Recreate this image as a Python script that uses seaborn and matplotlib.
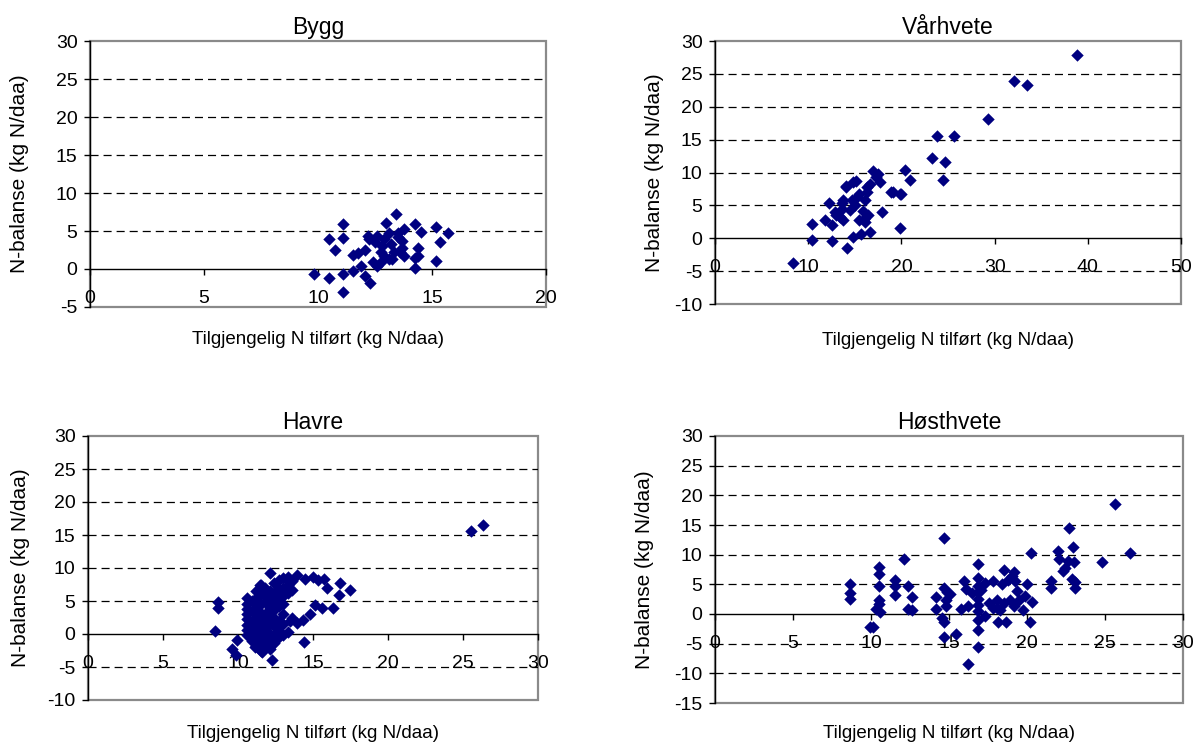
import numpy as np
import pandas as pd
import matplotlib
matplotlib.use("Agg")
import matplotlib.pyplot as plt
import seaborn as sns
from matplotlib.patches import Rectangle

# ---- data: available N applied (x) vs. N balance (y), kg N/daa ----
bygg_x = [9.83, 10.5, 11.08, 11.08, 10.5, 11.1, 11.1, 10.75, 11.55, 11.75,
          12.05, 11.55, 11.9, 12.05, 12.3, 12.2, 12.5, 12.6, 12.4, 12.6,
          12.75, 12.8, 13.0, 13.1, 13.1, 12.9, 13.2, 13.4, 13.5, 13.6,
          13.7, 13.75, 13.75, 13.7, 13.35, 14.25, 14.5, 14.4, 14.25, 14.4,
          14.25, 15.17, 15.33, 15.7, 15.17, 13.25, 12.25, 12.75, 12.9, 13.5]
bygg_y = [-0.7, -1.2, -3.0, -0.65, 4.0, 5.9, 4.1, 2.5, 1.9, 2.1,
          2.5, -0.2, 0.4, -0.9, -1.8, 4.3, 3.5, 4.3, 0.9, 0.4,
          2.2, 3.0, 6.0, 4.8, 1.3, 3.9, 3.3, 7.3, 4.8, 2.2,
          3.7, 5.2, 1.7, 2.8, 2.2, 5.9, 4.9, 2.7, 0.1, 1.65,
          1.4, 5.5, 3.6, 4.7, 1.0, 1.3, 3.9, 0.9, 1.7, 4.2]

varhvete_x = [8.4, 10.4, 10.4, 12.6, 14.2, 12.25, 11.8, 12.5, 13.6, 13.4,
              12.9, 14.1, 15.1, 14.65, 15.9, 16.4, 14.8, 15.7, 16.6, 17.0,
              17.3, 17.9, 19.8, 18.9, 20.4, 20.9, 20.0, 16.3, 15.5, 16.1,
              17.7, 16.6, 16.3, 14.8, 14.1, 15.2, 13.75, 13.6, 15.5, 16.1,
              13.75, 19.9, 19.1, 23.3, 24.7, 24.5, 23.8, 25.6, 29.3, 32.05,
              33.5, 38.8, 17.5, 16.0, 13.0, 15.0, 14.5]
varhvete_y = [-3.7, 2.2, -0.2, -0.4, -1.5, 5.3, 2.7, 2.0, 5.3, 3.2,
              4.0, 8.0, 8.7, 5.8, 4.2, 3.5, 0.2, 0.7, 1.0, 10.3,
              9.3, 4.0, 1.6, 7.0, 10.4, 8.9, 6.8, 7.8, 6.8, 5.8,
              8.5, 8.3, 7.0, 8.5, 7.8, 6.3, 5.8, 4.5, 2.7, 2.5,
              2.7, 6.7, 7.0, 12.2, 11.6, 8.8, 15.6, 15.5, 18.2, 23.9,
              23.3, 27.8, 9.8, 3.0, 3.5, 5.0, 4.3]

havre_x = [8.69, 8.69, 8.47, 9.96, 9.58, 9.87, 12.25, 14.4, 25.5, 26.3,
           12.13, 11.47, 13.25, 13.9, 14.47, 15.35, 15.7, 15.9, 16.8, 16.7,
           17.47, 16.35, 15.6, 15.13, 14.8, 14.35, 13.9, 13.47, 13.0, 12.7,
           13.35, 11.0, 11.13, 11.58, 10.8,
           10.6, 10.6, 10.6, 10.6, 10.6, 10.6, 10.6, 10.6,
           10.9, 10.9, 10.9, 10.9, 10.9,
           11.2, 11.2, 11.2, 11.2, 11.2, 11.2, 11.2,
           11.5, 11.5, 11.5, 11.5, 11.5, 11.5, 11.5, 11.5,
           11.8, 11.8, 11.8, 11.8, 11.8, 11.8, 11.8, 11.8,
           12.1, 12.1, 12.1, 12.1, 12.1, 12.1, 12.1, 12.1,
           12.4, 12.4, 12.4, 12.4, 12.4, 12.4, 12.4, 12.4,
           12.7, 12.7, 12.7, 12.7, 12.7, 12.7,
           13.0, 13.0, 13.0, 13.0, 13.0, 13.0,
           13.3, 13.3, 13.3, 13.6, 13.6, 13.6, 15.0]
havre_y = [4.9, 3.9, 0.5, -0.9, -2.3, -3.2, -3.9, -1.2, 15.6, 16.5,
           9.3, 7.4, 8.4, 8.9, 8.4, 8.2, 8.4, 6.9, 7.7, 5.9,
           6.6, 3.9, 3.9, 4.4, 3.1, 2.1, 1.6, 1.9, -0.2, -0.4,
           0.35, -0.9, -1.9, -2.7, -0.4,
           5.4, 4.6, 3.8, 3.0, 2.2, 1.4, 0.6, -0.2,
           5.0, 3.5, 2.0, 0.3, -1.0,
           6.5, 5.5, 4.0, 2.5, 1.0, -0.5, -1.8,
           7.4, 6.0, 4.5, 3.2, 1.8, 0.5, -1.2, -2.6,
           7.0, 5.8, 4.8, 3.0, 2.2, 0.8, -0.4, -1.5,
           6.5, 5.2, 4.0, 2.8, 1.5, 0.0, -1.0, -2.2,
           7.8, 6.2, 5.0, 3.6, 2.5, 1.2, -0.2, -1.3,
           8.2, 6.8, 5.5, 4.2, 2.0, 0.5,
           8.5, 7.0, 5.8, 4.5, 3.0, 1.5,
           8.7, 7.5, 6.2, 8.0, 6.6, 2.4, 8.6]

hosthvete_x = [8.65, 8.65, 8.65, 9.93, 10.1, 10.54, 10.54, 10.54, 10.54, 10.54,
               10.35, 10.6, 11.56, 11.56, 11.56, 12.14, 12.36, 12.6, 12.36, 12.6,
               14.7, 14.17, 14.17, 14.7, 14.9, 14.78, 14.78, 14.54, 14.66, 14.66,
               15.43, 15.05, 15.75, 15.99, 16.06, 16.2, 16.23, 16.84, 16.84, 16.84,
               16.84, 16.84, 16.84, 16.84, 16.84, 16.84, 16.84, 16.48, 17.08, 17.32,
               17.28, 17.81, 18.05, 18.05, 18.17, 18.41, 18.54, 18.54, 18.66, 18.9,
               19.02, 19.14, 19.26, 19.38, 19.5, 19.14, 19.75, 19.99, 19.87, 20.35,
               20.18, 20.28, 17.81, 18.3, 17.57, 18.78, 21.57, 21.57, 22.0, 22.05,
               22.29, 22.46, 22.66, 22.7, 22.97, 23.02, 22.9, 23.1, 23.1, 24.79,
               25.64, 26.6]
hosthvete_y = [5.1, 3.6, 2.5, -2.2, -2.2, 7.9, 6.8, 4.8, 2.4, 1.75,
               0.9, 0.4, 5.8, 4.7, 3.2, 9.2, 4.7, 2.8, 0.9, 0.7,
               12.8, 2.9, 0.9, 4.3, 3.7, 2.4, 1.3, -0.7, -1.4, -3.9,
               -3.4, 3.4, 0.9, 5.5, 4.2, 1.3, -8.5, 8.5, 6.1, 4.7,
               3.7, 2.5, 1.6, 0.45, -1.0, -2.7, -5.6, 3.6, 4.1, 5.3,
               -0.4, 5.5, 2.4, 1.0, -1.4, 5.0, 7.5, 1.9, -1.4, 2.4,
               6.4, 7.0, 5.5, 3.8, 2.4, 1.3, 0.7, 5.0, 3.0, 2.1,
               -1.4, 10.2, 1.0, 0.7, 1.9, 5.8, 5.5, 4.3, 10.6, 9.3,
               7.2, 7.8, 8.9, 14.5, 11.3, 8.8, 5.9, 5.4, 4.4, 8.7,
               18.5, 10.2]

titles = ["Bygg", "Vårhvete", "Havre", "Høsthvete"]
xlabel = "Tilgjengelig N tilført (kg N/daa)"
ylabel = "N-balanse (kg N/daa)"

# ---- styling ----
sns.set_style("white")
plt.rcParams["font.family"] = ["Liberation Sans", "DejaVu Sans"]
plt.rcParams["lines.scale_dashes"] = False
plt.rcParams["axes.unicode_minus"] = False
plt.rcParams["text.color"] = "black"
plt.rcParams["axes.labelcolor"] = "black"
plt.rcParams["axes.titlecolor"] = "black"

W, H = 1196, 746
fig = plt.figure(figsize=(W / 100, H / 100), dpi=100)

panels = [
    dict(title=titles[0], x=bygg_x, y=bygg_y, xlim=(0, 20), xstep=5, ylim=(-5, 30),
         rect=(90, 41, 546, 307), ylab_off=70, xlab_off=33),
    dict(title=titles[1], x=varhvete_x, y=varhvete_y, xlim=(0, 50), xstep=10, ylim=(-10, 30),
         rect=(715, 41, 1181, 304), ylab_off=60, xlab_off=36),
    dict(title=titles[2], x=havre_x, y=havre_y, xlim=(0, 30), xstep=5, ylim=(-10, 30),
         rect=(88, 436, 538, 700), ylab_off=68, xlab_off=33),
    dict(title=titles[3], x=hosthvete_x, y=hosthvete_y, xlim=(0, 30), xstep=5, ylim=(-15, 30),
         rect=(715, 436, 1183, 703), ylab_off=70, xlab_off=30),
]

navy = "#000080"
frame_gray = "#8a8a8a"

for p in panels:
    l, t, r, b = p["rect"]
    ax = fig.add_axes([l / W, 1 - b / H, (r - l) / W, (b - t) / H])
    df = pd.DataFrame({"x": p["x"], "y": p["y"]})
    sns.scatterplot(data=df, x="x", y="y", ax=ax, marker="D", color=navy,
                    s=40, linewidth=0, zorder=5, clip_on=False)

    x0, x1 = p["xlim"]
    y0, y1 = p["ylim"]
    ax.set_xlim(x0, x1)
    ax.set_ylim(y0, y1)
    ax.set_xticks(np.arange(x0, x1 + 1, p["xstep"]))
    yticks = np.arange(y0, y1 + 1, 5)
    ax.set_yticks(yticks)

    # dashed horizontal gridlines (not on frame edges or the zero axis)
    for yv in yticks:
        if yv in (y0, y1, 0):
            continue
        ax.axhline(yv, color="black", lw=0.9, ls=(0, (5.8, 3.6)), zorder=1)

    # plot-area frame in gray
    ax.add_patch(Rectangle((0, 0), 1, 1, transform=ax.transAxes, fill=False,
                           ec=frame_gray, lw=1.6, zorder=0.5, clip_on=False))

    for side in ("top", "right"):
        ax.spines[side].set_visible(False)
    ax.spines["bottom"].set_position(("data", 0))
    for side in ("bottom", "left"):
        ax.spines[side].set_color("black")
        ax.spines[side].set_linewidth(1.0)
        ax.spines[side].set_zorder(3)

    ax.tick_params(axis="x", bottom=True, direction="out", length=4, width=1,
                   pad=11, labelsize=14, colors="black")
    ax.tick_params(axis="y", left=True, direction="out", length=4, width=1,
                   pad=5, labelsize=14, colors="black")

    ax.set_title(p["title"], fontsize=16.5, pad=5)
    ax.set_xlabel(xlabel, fontsize=13.5, va="center")
    ax.xaxis.set_label_coords(0.5, -p["xlab_off"] / (b - t))
    ax.set_ylabel(ylabel, fontsize=15, va="center")
    ax.yaxis.set_label_coords(-p["ylab_off"] / (r - l), 0.5)

fig.savefig("out.png", dpi=100)
